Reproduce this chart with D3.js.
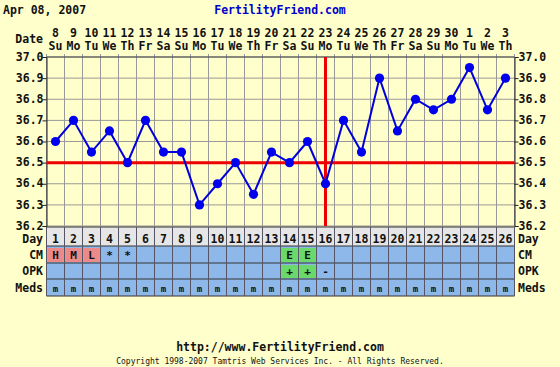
<!DOCTYPE html>
<html>
<head>
<meta charset="utf-8">
<script src="https://cdn.jsdelivr.net/npm/d3@7"></script>
<style>
  body { margin: 0; background: #ffffcc; }
  text { font-family: "DejaVu Sans Mono", monospace; font-weight: bold; }
</style>
</head>
<body>
<svg id="chart" width="560" height="367"></svg>
<script>
// Data
var cycleDays = d3.range(1, 27);
var dates = [8,9,10,11,12,13,14,15,16,17,18,19,20,21,22,23,24,25,26,27,28,29,30,1,2,3];
var weekdays = ["Su","Mo","Tu","We","Th","Fr","Sa","Su","Mo","Tu","We","Th","Fr","Sa","Su","Mo","Tu","We","Th","Fr","Sa","Su","Mo","Tu","We","Th"];
var temps = [36.6,36.7,36.55,36.65,36.5,36.7,36.55,36.55,36.3,36.4,36.5,36.35,36.55,36.5,36.6,36.4,36.7,36.55,36.9,36.65,36.8,36.75,36.8,36.95,36.75,36.9];
var cm   = ["H","M","L","*","*","","","","","","","","","E","E","","","","","","","","","","",""];
var opk  = ["","","","","","","","","","","","","","+","+","-","","","","","","","","","",""];
var meds = cycleDays.map(function() { return "m"; });
var tempTicks = [36.2,36.3,36.4,36.5,36.6,36.7,36.8,36.9,37.0];
var coverline = 36.5;
var ovulationDay = 16;
var rowNames = ["Day","CM","OPK","Meds"];

var svg = d3.select("svg#chart");
var plotL = 46.5, plotR = 514.5, plotT = 57, plotB = 226;

var x = d3.scaleBand().domain(cycleDays).range([plotL, plotR]);
var y = d3.scaleLinear().domain([36.2, 37.0]).range([plotB, plotT]);
// table rows: the Day row is a little taller than the others
var rowTop = d3.scaleOrdinal().domain(rowNames).range([227, 246, 263, 279]);
var rowH = d3.scaleOrdinal().domain(rowNames).range([19, 17, 16, 17]);
var tableB = 296;
function rowText(r) { return rowTop(r) + rowH(r) / 2 + (r === "Day" ? 6 : 4); }

// header
svg.append("text").attr("x", 3).attr("y", 14).style("font-size", "11.5px").attr("fill", "#111").text("Apr 08, 2007");
svg.append("text").attr("x", 280).attr("y", 14).attr("text-anchor", "middle").style("font-size", "11.5px").attr("fill", "#0000cc").text("FertilityFriend.com");
svg.append("text").attr("x", 43).attr("y", 43).attr("text-anchor", "end").style("font-size", "11.5px").attr("fill", "#111").text("Date");

svg.append("g").selectAll("text").data(cycleDays).enter().append("text")
  .attr("x", function(d) { return x(d) + x.bandwidth() / 2; }).attr("y", 37)
  .attr("text-anchor", "middle").style("font-size", "11.5px").attr("fill", "#111")
  .text(function(d, i) { return dates[i]; });
svg.append("g").selectAll("text").data(cycleDays).enter().append("text")
  .attr("x", function(d) { return x(d) + x.bandwidth() / 2; }).attr("y", 50)
  .attr("text-anchor", "middle").style("font-size", "11.5px").attr("fill", "#111")
  .text(function(d, i) { return weekdays[i]; });

// grid
var edges = cycleDays.map(function(d) { return x(d); }).concat([plotR]);
svg.append("g").selectAll("line").data(edges).enter().append("line")
  .attr("x1", function(d) { return d; }).attr("x2", function(d) { return d; })
  .attr("y1", plotT - 3).attr("y2", plotB).attr("stroke", "#999").attr("stroke-width", 1);
svg.append("g").selectAll("line").data(tempTicks).enter().append("line")
  .attr("x1", plotL).attr("x2", plotR)
  .attr("y1", function(d) { return y(d); }).attr("y2", function(d) { return y(d); })
  .attr("stroke", "#999").attr("stroke-width", 1);

// axes
var yLeft = svg.append("g").attr("transform", "translate(" + plotL + ",0)")
  .call(d3.axisLeft(y).tickValues(tempTicks).tickSize(4).tickFormat(d3.format(".1f")));
var yRight = svg.append("g").attr("transform", "translate(" + plotR + ",0)")
  .call(d3.axisRight(y).tickValues(tempTicks).tickSize(4).tickFormat(d3.format(".1f")));
[yLeft, yRight].forEach(function(a) {
  a.select(".domain").attr("stroke", "#222");
  a.selectAll(".tick line").attr("stroke", "#222");
  a.selectAll("text").style("font-family", "DejaVu Sans Mono").style("font-weight", "bold")
    .style("font-size", "11.5px").attr("fill", "#111").attr("dy", "0.28em");
});
yLeft.selectAll("text").attr("x", -3);
yRight.selectAll("text").attr("x", 4);
svg.append("line").attr("x1", plotL).attr("x2", plotR).attr("y1", plotT).attr("y2", plotT).attr("stroke", "#444");

// coverline and ovulation line
svg.append("line").attr("x1", plotL).attr("x2", plotR).attr("y1", y(coverline)).attr("y2", y(coverline))
  .attr("stroke", "#ee0000").attr("stroke-width", 3);
svg.append("line").attr("x1", x(ovulationDay) + x.bandwidth() / 2).attr("x2", x(ovulationDay) + x.bandwidth() / 2)
  .attr("y1", plotT).attr("y2", plotB).attr("stroke", "#ee0000").attr("stroke-width", 3);

// temperature line
svg.append("path").datum(temps).attr("fill", "none").attr("stroke", "#0000dd").attr("stroke-width", 2)
  .attr("d", d3.line().x(function(d, i) { return x(cycleDays[i]) + x.bandwidth() / 2; }).y(function(d) { return y(d); }));
svg.append("g").selectAll("circle").data(temps).enter().append("circle")
  .attr("cx", function(d, i) { return x(cycleDays[i]) + x.bandwidth() / 2; })
  .attr("cy", function(d) { return y(d); }).attr("r", 4.6).attr("fill", "#0000ee");

// table rows
var rowFill = { Day: "#e6e6e6", CM: "#8fb8ea", OPK: "#8fb8ea", Meds: "#8fb8ea" };
rowNames.forEach(function(r) {
  svg.append("rect").attr("x", plotL).attr("y", rowTop(r)).attr("width", plotR - plotL).attr("height", rowH(r))
    .attr("fill", rowFill[r]);
  svg.append("text").attr("x", 43).attr("y", rowText(r)).attr("text-anchor", "end")
    .style("font-size", "11.5px").attr("fill", "#111").text(r);
  svg.append("text").attr("x", 518).attr("y", rowText(r))
    .style("font-size", "11.5px").attr("fill", "#111").text(r);
});

// coloured cells
var cellColor = { H: "#ec8a8a", M: "#ec8a8a", L: "#ec8a8a", E: "#6ad86a", "+": "#6ad86a" };
function cells(name, values, size) {
  var g = svg.append("g");
  g.selectAll("rect").data(values).enter().append("rect")
    .attr("x", function(d, i) { return x(cycleDays[i]) + 1; }).attr("y", rowTop(name) + 2)
    .attr("width", x.bandwidth() - 2).attr("height", rowH(name) - 3)
    .attr("fill", function(d) { return cellColor[d] || "none"; });
  g.selectAll("text").data(values).enter().append("text")
    .attr("x", function(d, i) { return x(cycleDays[i]) + x.bandwidth() / 2; })
    .attr("y", rowText(name)).attr("text-anchor", "middle")
    .style("font-size", size).attr("fill", "#111").text(function(d) { return d; });
}
svg.append("g").selectAll("text").data(cycleDays).enter().append("text")
  .attr("x", function(d) { return x(d) + x.bandwidth() / 2; }).attr("y", rowText("Day"))
  .attr("text-anchor", "middle").style("font-size", "11.5px").attr("fill", "#111").text(function(d) { return d; });
cells("CM", cm, "11px");
cells("OPK", opk, "11px");
cells("Meds", meds, "9px");

// table lines
svg.append("g").selectAll("line").data(rowNames.map(function(r) { return rowTop(r); }).concat([tableB])).enter().append("line")
  .attr("x1", plotL).attr("x2", plotR).attr("y1", function(d) { return d; }).attr("y2", function(d) { return d; })
  .attr("stroke", "#333");
svg.append("g").selectAll("line").data(edges).enter().append("line")
  .attr("x1", function(d) { return d; }).attr("x2", function(d) { return d; })
  .attr("y1", 227).attr("y2", tableB).attr("stroke", "#556");

// footer
svg.append("text").attr("x", 280).attr("y", 351).attr("text-anchor", "middle").style("font-size", "11.5px")
  .attr("fill", "#111").text("http://www.FertilityFriend.com");
svg.append("text").attr("x", 280).attr("y", 364).attr("text-anchor", "middle").style("font-size", "8px")
  .style("font-weight", "normal").attr("fill", "#111").text("Copyright 1998-2007 Tamtris Web Services Inc. - All Rights Reserved.");
</script>
</body>
</html>
